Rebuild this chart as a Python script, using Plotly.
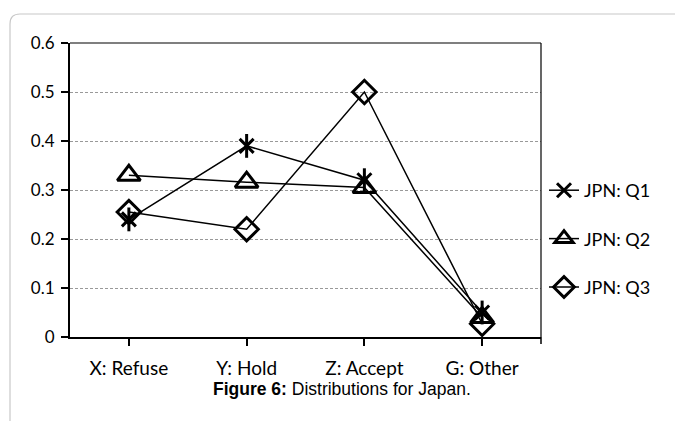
import plotly.graph_objects as go

categories = ["X: Refuse", "Y: Hold", "Z: Accept", "G: Other"]
q1 = [0.24, 0.39, 0.32, 0.05]
q2 = [0.33, 0.316, 0.305, 0.04]
q3 = [0.255, 0.22, 0.50, 0.027]
series_names = ["JPN: Q1", "JPN: Q2", "JPN: Q3"]
y_ticks = [0, 0.1, 0.2, 0.3, 0.4, 0.5, 0.6]
y_ticktext = ["0", "0.1", "0.2", "0.3", "0.4", "0.5", "0.6"]

FONT = "Lato"
fig = go.Figure()
symbols = ["x-thin-open", "triangle-up-open", "diamond-open"]
sizes = [14, 20, 18]
for i, (name, vals) in enumerate(zip(series_names, [q1, q2, q3])):
    fig.add_trace(go.Scatter(
        x=categories, y=vals, name=name, mode="lines+markers",
        line=dict(color="black", width=1.5),
        marker=dict(symbol=symbols[i], size=sizes[i], color="black",
                    line=dict(color="black", width=3)),
        legendgroup=name,
    ))
    if i == 0:
        fig.add_trace(go.Scatter(
            x=categories, y=vals, mode="markers", showlegend=False,
            legendgroup=name, hoverinfo="skip",
            marker=dict(symbol="line-ns-open", size=17, color="black",
                        line=dict(color="black", width=3)),
        ))

OFF = 8
W, H = 683 - OFF, 421 - OFF
L, R, T, B = 70 - OFF, 683 - 541, 43 - OFF, 421 - 337
pw, ph = W - L - R, H - T - B

def px(x):
    return (x - OFF - L) / pw

def py(y):
    return (H - B - (y - OFF)) / ph

r = 10
x0, y0, x1, y1 = px(10), py(14), px(700), py(440)
path = (f"M {x0},{y1} L {x0},{py(14 + r)} Q {x0},{y0} {px(10 + r)},{y0} L {x1},{y0}")

shapes = [
    dict(type="path", xref="paper", yref="paper", path=path,
         line=dict(color="#c8c8c8", width=1.2)),
    dict(type="line", xref="paper", yref="paper", x0=1, x1=1, y0=0, y1=1,
         line=dict(color="black", width=1.2)),
    dict(type="line", xref="paper", yref="paper", x0=0, x1=1, y0=1, y1=1,
         line=dict(color="black", width=1.2)),
    dict(type="line", xref="paper", yref="paper", x0=1, x1=1, y0=0, y1=py(337 + 7),
         line=dict(color="black", width=1.5)),
]

fig.update_layout(
    width=W, height=H,
    margin=dict(l=L, r=R, t=T, b=B),
    paper_bgcolor="white", plot_bgcolor="white",
    font=dict(family=FONT, color="black", size=16),
    showlegend=True,
    legend=dict(x=px(544), y=py(172), xanchor="left", yanchor="top",
                font=dict(family=FONT, size=18, color="black"),
                tracegroupgap=22, itemwidth=30,
                bgcolor="rgba(0,0,0,0)"),
    xaxis=dict(type="category", categoryorder="array", categoryarray=categories,
               range=[-0.5, 3.5], showgrid=False, showline=True, linecolor="black",
               linewidth=2, ticks="outside", ticklen=7, tickcolor="black", tickwidth=1.5,
               ticklabelstandoff=6,
               tickfont=dict(family=FONT, size=19), zeroline=False, fixedrange=True),
    yaxis=dict(range=[0, 0.6], tickvals=y_ticks, ticktext=y_ticktext,
               showgrid=True, gridcolor="#999999", griddash="3px,2px", gridwidth=1,
               showline=True, linecolor="black", linewidth=2,
               ticks="outside", ticklen=7, tickcolor="black", tickwidth=1.5,
               ticklabelstandoff=3,
               tickfont=dict(family=FONT, size=17), zeroline=False, fixedrange=True),
    shapes=shapes,
    annotations=[dict(
        xref="paper", yref="paper", x=px(342), y=py(389), xanchor="center", yanchor="middle",
        showarrow=False,
        text="<b>Figure 6:</b> Distributions for Japan.",
        font=dict(family="Liberation Sans", size=17.5, color="black"),
    )],
)

fig.write_html("out.html")
